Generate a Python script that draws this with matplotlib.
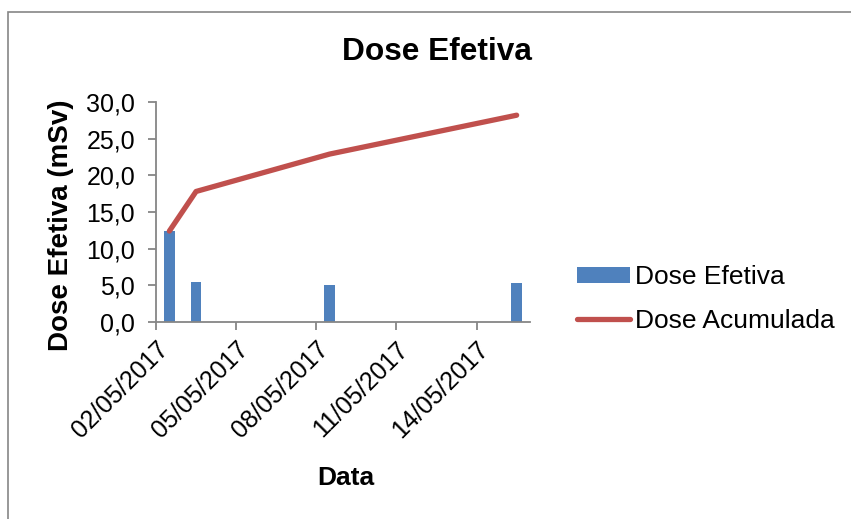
import datetime as dt
import matplotlib
matplotlib.use('Agg')
import matplotlib.dates as mdates
from matplotlib import pyplot as plt
from matplotlib.patches import Rectangle, Patch
from matplotlib.lines import Line2D
from matplotlib.ticker import FuncFormatter

plt.rcParams['font.family'] = ['Liberation Sans', 'DejaVu Sans']

# measurement dates and effective dose per date (mSv)
datas = [dt.date(2017, 5, 2), dt.date(2017, 5, 3), dt.date(2017, 5, 8), dt.date(2017, 5, 15)]
dose_efetiva = [12.4, 5.4, 5.1, 5.3]
dose_acumulada = [12.4, 17.8, 22.9, 28.2]

tick_datas = [dt.date(2017, 5, 2), dt.date(2017, 5, 5), dt.date(2017, 5, 8),
              dt.date(2017, 5, 11), dt.date(2017, 5, 14)]
y_ticks = [0, 5, 10, 15, 20, 25, 30]

azul = '#4F81BD'
vermelho = '#C0504D'
cinza = '#868686'

W, H = 851, 519
fig = plt.figure(figsize=(W / 100, H / 100), dpi=100)
ax = fig.add_axes([156 / W, 1 - 322 / H, 374 / W, 220 / H])

# each date occupies one day slot, marks are centred in the slot
x = [mdates.date2num(d) + 0.5 for d in datas]
ax.bar(x, dose_efetiva, width=0.4, color=azul, zorder=2)
ax.plot(x, dose_acumulada, color=vermelho, lw=3.8, solid_capstyle='round',
        solid_joinstyle='round', zorder=3)

ax.set_xlim(mdates.date2num(dt.date(2017, 5, 2)), mdates.date2num(dt.date(2017, 5, 16)))
ax.set_ylim(0, 30)
ax.set_yticks(y_ticks)
ax.yaxis.set_major_formatter(FuncFormatter(lambda v, p: f'{v:.1f}'.replace('.', ',')))
ax.set_xticks([mdates.date2num(d) for d in tick_datas])
ax.set_xticklabels([d.strftime('%d/%m/%Y') for d in tick_datas], rotation=45,
                   ha='right', va='top', rotation_mode='anchor')

for s in ['top', 'right']:
    ax.spines[s].set_visible(False)
for s in ['left', 'bottom']:
    ax.spines[s].set_color(cinza)
    ax.spines[s].set_linewidth(1.3)
ax.tick_params(axis='both', colors=cinza, labelcolor='black', length=6, width=1.3,
               labelsize=18)
ax.tick_params(axis='y', pad=9)
ax.tick_params(axis='x', pad=5)

fig.text(437 / W, 1 - 52 / H, 'Dose Efetiva', fontsize=22.8, fontweight='bold',
         ha='center', va='center')
fig.text(61 / W, 1 - 225 / H, 'Dose Efetiva (mSv)', rotation=90, fontsize=20,
         fontweight='bold', ha='center', va='center')
fig.text(346 / W, 1 - 478 / H, 'Data', fontsize=19, fontweight='bold',
         ha='center', va='center')

handles = [Patch(facecolor=azul, edgecolor='none'),
           Line2D([0], [0], color=vermelho, lw=3.8, solid_capstyle='round')]
fig.legend(handles, ['Dose Efetiva', 'Dose Acumulada'], loc='center left',
           bbox_to_anchor=(577 / W, 1 - 299 / H), frameon=False, fontsize=19,
           handlelength=2.0, handleheight=0.55, handletextpad=0.2,
           labelspacing=0.75, borderpad=0, borderaxespad=0)

# outer chart frame
fig.patches.append(Rectangle((8 / W, -0.1), 1.1, 1.1 - 12 / H, transform=fig.transFigure,
                             fill=False, edgecolor=cinza, lw=1.2))

fig.savefig('out.png', dpi=100)
